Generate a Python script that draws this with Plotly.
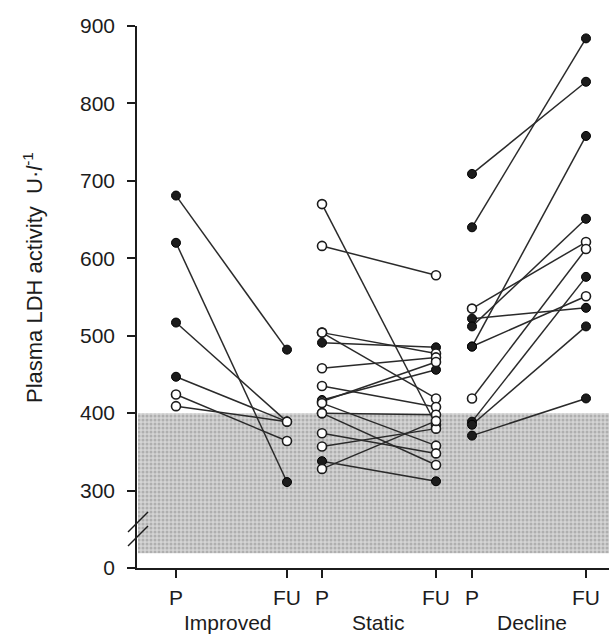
import plotly.graph_objects as go

# ---------------- data ----------------
groups = ["Improved", "Static", "Decline"]
timepoints = ["P", "FU"]
y_tick_vals = [200, 300, 400, 500, 600, 700, 800, 900]
y_tick_text = ["0", "300", "400", "500", "600", "700", "800", "900"]

improved_p = [681, 620, 517, 447, 424, 409]
improved_fu = [482, 311, 389, 389, 364, 389]
improved_p_filled = [1, 1, 1, 1, 0, 0]
improved_fu_filled = [1, 1, 1, 1, 0, 0]

static_p = [670, 616, 504, 491, 504, 458, 435, 417, 415, 413, 400, 400, 374, 357, 338, 328]
static_fu = [385, 578, 477, 485, 419, 472, 408, 456, 466, 358, 398, 333, 348, 380, 312, 390]
static_p_filled = [0, 0, 0, 1, 0, 0, 0, 1, 0, 0, 0, 0, 0, 0, 1, 0]
static_fu_filled = [0, 0, 0, 1, 0, 0, 0, 1, 0, 0, 0, 0, 0, 0, 1, 0]

decline_p = [709, 640, 535, 522, 512, 486, 486, 419, 389, 385, 371]
decline_fu = [828, 884, 621, 536, 651, 758, 551, 612, 576, 512, 419]
decline_p_filled = [1, 1, 0, 1, 1, 1, 1, 0, 1, 1, 1]
decline_fu_filled = [1, 1, 0, 1, 1, 1, 0, 0, 1, 1, 1]

normal_range = [219, 400]  # shaded reference band (axis units)

# ---------------- layout constants ----------------
W, H = 609, 637
ML, MR, MT, MB = 137, 0, 26, 69
X_RANGE = [137, 609]
Y_RANGE = [200, 900]
POS = {"Improved": (176, 287), "Static": (322, 436), "Decline": (472, 586)}
LABEL_X = {"Improved": 228, "Static": 378, "Decline": 532}

INK = "#1c1c1c"
FONT = "Liberation Sans, Arial, sans-serif"

data = {
    "Improved": (improved_p, improved_fu, improved_p_filled, improved_fu_filled),
    "Static": (static_p, static_fu, static_p_filled, static_fu_filled),
    "Decline": (decline_p, decline_fu, decline_p_filled, decline_fu_filled),
}

pw, ph = W - ML - MR, H - MT - MB
def px(xp): return (xp - ML) / pw
def py(yp): return (H - MB - yp) / ph

fig = go.Figure()

# shaded band
fig.add_trace(go.Scatter(
    x=[X_RANGE[0] + 1, X_RANGE[1], X_RANGE[1], X_RANGE[0] + 1, X_RANGE[0] + 1],
    y=[normal_range[1], normal_range[1], normal_range[0], normal_range[0], normal_range[1]],
    mode="lines", line=dict(width=0), fill="toself",
    fillcolor="#cfcfcf",
    fillpattern=dict(shape=".", fgcolor="#8a8a8a", bgcolor="#d4d4d4", size=4, solidity=0.45),
    hoverinfo="skip", showlegend=False,
))

for g in groups:
    p, fu, pf, ff = data[g]
    xp, xf = POS[g]
    lx, ly = [], []
    for a, b in zip(p, fu):
        lx += [xp, xf, None]
        ly += [a, b, None]
    fig.add_trace(go.Scatter(x=lx, y=ly, mode="lines",
                             line=dict(color="#2a2a2a", width=1.5),
                             hoverinfo="skip", showlegend=False))
    fx, fy, ox, oy = [], [], [], []
    for a, b, fa, fb in zip(p, fu, pf, ff):
        (fx if fa else ox).append(xp); (fy if fa else oy).append(a)
        (fx if fb else ox).append(xf); (fy if fb else oy).append(b)
    fig.add_trace(go.Scatter(x=fx, y=fy, mode="markers",
                             marker=dict(size=9, color=INK, line=dict(color="#000", width=1)),
                             showlegend=False, cliponaxis=False))
    fig.add_trace(go.Scatter(x=ox, y=oy, mode="markers",
                             marker=dict(size=9, color="white", line=dict(color=INK, width=1.6)),
                             showlegend=False, cliponaxis=False))

# x tick labels (P / FU) and group labels
for g in groups:
    for t, xv in zip(timepoints, POS[g]):
        fig.add_annotation(x=xv, xref="x", y=py(597), yref="paper",
                           text=t, showarrow=False, xanchor="center", yanchor="middle",
                           font=dict(size=21, color=INK, family=FONT))
    fig.add_annotation(x=LABEL_X[g], xref="x", y=py(609), yref="paper",
                       text=g, showarrow=False, yanchor="top",
                       font=dict(size=21, color=INK, family=FONT))

# y title
fig.add_annotation(x=px(33), xref="paper", y=py(278), yref="paper",
                   text="Plasma LDH activity  U·<i>l</i><sup>-1</sup>",
                   textangle=-90, showarrow=False, xanchor="center", yanchor="middle",
                   font=dict(size=22, color=INK, family=FONT))

# axis break marks
for (x0, y0, x1, y1) in [(128, 532, 148, 512), (128, 546, 148, 526)]:
    fig.add_shape(type="line", xref="paper", yref="paper",
                  x0=px(x0), y0=py(y0), x1=px(x1), y1=py(y1),
                  line=dict(color=INK, width=1.5))

tickvals = [xv for g in groups for xv in POS[g]]

fig.update_layout(
    width=W, height=H,
    margin=dict(l=ML, r=MR, t=MT, b=MB),
    paper_bgcolor="white", plot_bgcolor="white",
    font=dict(family=FONT, color=INK, size=21),
    showlegend=False,
    xaxis=dict(range=X_RANGE, showgrid=False, zeroline=False,
               showline=True, linecolor=INK, linewidth=1.5,
               tickmode="array", tickvals=tickvals, showticklabels=False,
               ticks="outside", ticklen=8, tickwidth=1.5, tickcolor=INK),
    yaxis=dict(range=Y_RANGE, showgrid=False, zeroline=False,
               showline=True, linecolor=INK, linewidth=1.5,
               tickmode="array", tickvals=y_tick_vals, ticktext=y_tick_text,
               ticks="outside", ticklen=8, tickwidth=1.5, tickcolor=INK,
               ticklabelstandoff=8,
               tickfont=dict(size=21, family=FONT, color=INK)),
)

fig.write_html("out.html",
               config={"displayModeBar": False},
               post_script="document.body.style.margin='0';document.body.style.overflow='hidden';")
